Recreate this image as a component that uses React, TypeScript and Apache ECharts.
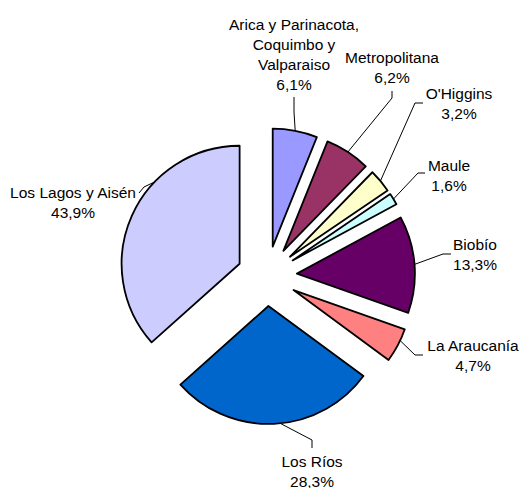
import React, { useEffect, useRef } from 'react';
import * as echarts from 'echarts';

const regions = [
  'Arica y Parinacota,\nCoquimbo y\nValparaiso',
  'Metropolitana',
  "O'Higgins",
  'Maule',
  'Biobío',
  'La Araucanía',
  'Los Ríos',
  'Los Lagos y Aisén',
];
// slice sizes as drawn in the picture (share of the circle, %)
const sliceShares = [6.1, 6.2, 3.2, 1.6, 13.3, 4.7, 28.3, 36.6];
// percentages printed in the labels
const labelPercents = ['6,1%', '6,2%', '3,2%', '1,6%', '13,3%', '4,7%', '28,3%', '43,9%'];
const colors = ['#9999FF', '#993366', '#FFFFCC', '#CCFFFF', '#660066', '#FF8080', '#0066CC', '#CCCCFF'];

// layout only: label text-block centres, leader bend points, where on the arc a leader starts
const labelPos: [number, number][] = [
  [294, 54], [392, 67], [459, 103], [449, 175], [475, 254], [473, 355], [312, 471], [73, 202],
];
const leaderBends: [number, number][][] = [
  [[294, 112], [294, 97]],
  [[392, 98], [392, 91]],
  [[415, 103], [423, 103]],
  [[418, 173], [425, 173]],
  [[443, 254], [451, 254]],
  [[415, 355], [423, 355]],
  [[312, 440], [312, 448]],
  [[144, 187], [139, 193]],
];
const leaderArcFrac = [0.5, 0.5, 0.5, 0.5, 0.5, 0.35, 0.47, 0.65];
const OFFSET = 30;
const FONT = 'Liberation Sans, Arial, sans-serif';

export default function App() {
  const ref = useRef<HTMLDivElement>(null);
  useEffect(() => {
    if (!ref.current) return;
    const chart = echarts.init(ref.current, undefined, { renderer: 'svg' });
    chart.setOption({
      animation: false,
      backgroundColor: '#ffffff',
      series: [
        {
          type: 'pie',
          center: [267, 276],
          radius: 118,
          startAngle: 90,
          clockwise: true,
          selectedMode: 'multiple',
          selectedOffset: OFFSET,
          itemStyle: { borderColor: '#000', borderWidth: 1.8 },
          label: { show: false },
          labelLine: { show: false },
          emphasis: { disabled: true },
          data: regions.map((name, i) => ({
            name,
            value: sliceShares[i],
            selected: true,
            itemStyle: { color: colors[i] },
          })),
        },
      ],
    });

    // leaders and labels from the library's own slice layout
    const data = (chart as any).getModel().getSeriesByIndex(0).getData();
    const elements: any[] = [];
    regions.forEach((name, i) => {
      const lay = data.getItemLayout(i);
      const a = lay.startAngle + (lay.endAngle - lay.startAngle) * leaderArcFrac[i];
      const mid = (lay.startAngle + lay.endAngle) / 2;
      const ox = lay.cx + OFFSET * Math.cos(mid);
      const oy = lay.cy + OFFSET * Math.sin(mid);
      const sx = ox + lay.r * Math.cos(a);
      const sy = oy + lay.r * Math.sin(a);
      elements.push({
        type: 'polyline',
        silent: true,
        shape: { points: [[sx, sy], leaderBends[i][0], leaderBends[i][1]] },
        style: { stroke: '#000', lineWidth: 1, fill: null },
      });
      elements.push({
        type: 'text',
        silent: true,
        x: labelPos[i][0],
        y: labelPos[i][1],
        style: {
          text: `${name}\n${labelPercents[i]}`,
          fontFamily: FONT,
          fontSize: 15.5,
          lineHeight: 20,
          fill: '#000',
          align: 'center',
          verticalAlign: 'middle',
          textAlign: 'center',
          textVerticalAlign: 'middle',
        },
      });
    });
    chart.setOption({ graphic: { elements } });
    return () => chart.dispose();
  }, []);
  return (
    <div
      ref={ref}
      style={{ position: 'fixed', left: 0, top: 0, width: 523, height: 488, background: '#fff' }}
    />
  );
}
